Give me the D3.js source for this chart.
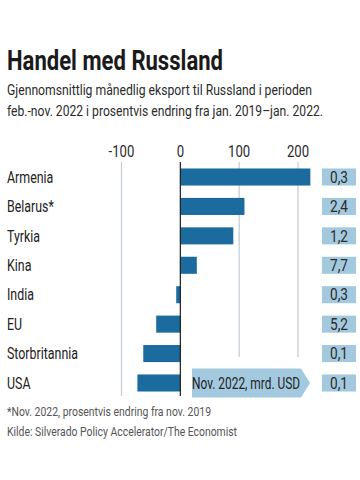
<!DOCTYPE html>
<html>
<head>
<meta charset="utf-8">
<script src="https://cdn.jsdelivr.net/npm/d3@7"></script>
<style>
  body { margin: 0; background: #fff; }
  svg text { font-family: "Roboto", "Liberation Sans", sans-serif; }
</style>
</head>
<body>
<div id="chart"></div>
<script>
const width = 360, height = 480;

// data
const countries = ["Armenia", "Belarus*", "Tyrkia", "Kina", "India", "EU", "Storbritannia", "USA"];
const changePct = [221, 109, 90, 28, -7, -41, -63, -73];
const exportsBn = ["0,3", "2,4", "1,2", "7,7", "0,3", "5,2", "0,1", "0,1"];
const ticks = [-100, 0, 100, 200];

const barColor = "#1b6b9e";
const boxColor = "#a3c9df";
const gridColor = "#c6d0d8";

const svg = d3.select("#chart")
  .append("svg")
  .attr("width", width)
  .attr("height", height);

// the reference uses a condensed face, so squeeze the text horizontally
function fitWidth(sel, w) {
  sel.attr("textLength", w).attr("lengthAdjust", "spacingAndGlyphs");
}
function squeeze(sel, k) {
  sel.each(function() {
    const n = this.getComputedTextLength();
    this.setAttribute("textLength", n * k);
    this.setAttribute("lengthAdjust", "spacingAndGlyphs");
  });
}

// title + subtitle
svg.append("text")
  .attr("x", 7)
  .attr("y", 70)
  .attr("font-size", "28px")
  .attr("font-weight", "bold")
  .attr("fill", "#1a1a1a")
  .text("Handel med Russland")
  .call(fitWidth, 216);

svg.append("text")
  .attr("x", 7)
  .attr("y", 95)
  .attr("font-size", "15px")
  .attr("fill", "#2b2b2b")
  .text("Gjennomsnittlig månedlig eksport til Russland i perioden")
  .call(fitWidth, 305);

svg.append("text")
  .attr("x", 7)
  .attr("y", 116)
  .attr("font-size", "15px")
  .attr("fill", "#2b2b2b")
  .text("feb.-nov. 2022 i prosentvis endring fra jan. 2019–jan. 2022.")
  .call(fitWidth, 316);

const x = d3.scaleLinear()
  .domain([-100, 200])
  .range([121.5, 298]);

const y = d3.scaleBand()
  .domain(countries)
  .range([162.3, 397.7])
  .paddingInner(0.42)
  .paddingOuter(0.21);

const gridTop = 162, gridBottom = 357, zeroBottom = 396;

// gridlines
svg.append("g")
  .selectAll("line")
  .data(ticks.filter(t => t !== 0))
  .enter()
  .append("line")
  .attr("x1", d => x(d))
  .attr("x2", d => x(d))
  .attr("y1", gridTop)
  .attr("y2", d => d < 0 ? zeroBottom : gridBottom)
  .attr("stroke", gridColor)
  .attr("stroke-width", 1.3);

// tick labels
const tickText = svg.append("g")
  .selectAll("text")
  .data(ticks)
  .enter()
  .append("text")
  .attr("x", d => x(d))
  .attr("y", 157)
  .attr("text-anchor", "middle")
  .attr("font-size", "16px")
  .attr("fill", "#2b2b2b")
  .text(d => d);
squeeze(tickText, 0.82);

// bars
const data = countries.map((c, i) => ({ country: c, value: changePct[i], exp: exportsBn[i] }));

svg.append("g")
  .selectAll("rect")
  .data(data)
  .enter()
  .append("rect")
  .attr("x", d => x(Math.min(0, d.value)))
  .attr("y", d => y(d.country))
  .attr("width", d => Math.abs(x(d.value) - x(0)))
  .attr("height", y.bandwidth())
  .attr("fill", barColor);

// zero line
svg.append("line")
  .attr("x1", x(0))
  .attr("x2", x(0))
  .attr("y1", gridTop)
  .attr("y2", zeroBottom)
  .attr("stroke", "#1a1a1a")
  .attr("stroke-width", 1.2);

// country labels
const labels = svg.append("g")
  .selectAll("text")
  .data(data)
  .enter()
  .append("text")
  .attr("x", 7)
  .attr("y", d => y(d.country) + y.bandwidth() / 2)
  .attr("dy", "0.36em")
  .attr("font-size", "16px")
  .attr("fill", "#222")
  .text(d => d.country);
const storW = labels.filter(d => d.country === "Storbritannia").node().getComputedTextLength();
squeeze(labels, 71 / storW);

// export value boxes
const boxes = svg.append("g");
boxes.selectAll("rect")
  .data(data)
  .enter()
  .append("rect")
  .attr("x", 322)
  .attr("y", d => y(d.country))
  .attr("width", 34)
  .attr("height", y.bandwidth())
  .attr("fill", boxColor);

const boxText = boxes.selectAll("text")
  .data(data)
  .enter()
  .append("text")
  .attr("x", 339)
  .attr("y", d => y(d.country) + y.bandwidth() / 2)
  .attr("dy", "0.36em")
  .attr("text-anchor", "middle")
  .attr("font-size", "16px")
  .attr("fill", "#2b2b2b")
  .text(d => d.exp);
squeeze(boxText, 0.85);

// "Nov. 2022, mrd. USD" pointer label
const lastY = y("USA") + y.bandwidth() / 2;
svg.append("path")
  .attr("d", `M192,${lastY - 14.5}H301L310,${lastY}L301,${lastY + 14.5}H192Z`)
  .attr("fill", boxColor);

svg.append("text")
  .attr("x", 192)
  .attr("y", lastY)
  .attr("dy", "0.36em")
  .attr("font-size", "16px")
  .attr("fill", "#222")
  .text("Nov. 2022, mrd. USD")
  .call(fitWidth, 108);

// footnotes
svg.append("text")
  .attr("x", 7)
  .attr("y", 416)
  .attr("font-size", "13.5px")
  .attr("fill", "#555")
  .text("*Nov. 2022, prosentvis endring fra nov. 2019")
  .call(fitWidth, 204);

svg.append("text")
  .attr("x", 7)
  .attr("y", 436)
  .attr("font-size", "13.5px")
  .attr("fill", "#555")
  .text("Kilde: Silverado Policy Accelerator/The Economist")
  .call(fitWidth, 230);
</script>
</body>
</html>
